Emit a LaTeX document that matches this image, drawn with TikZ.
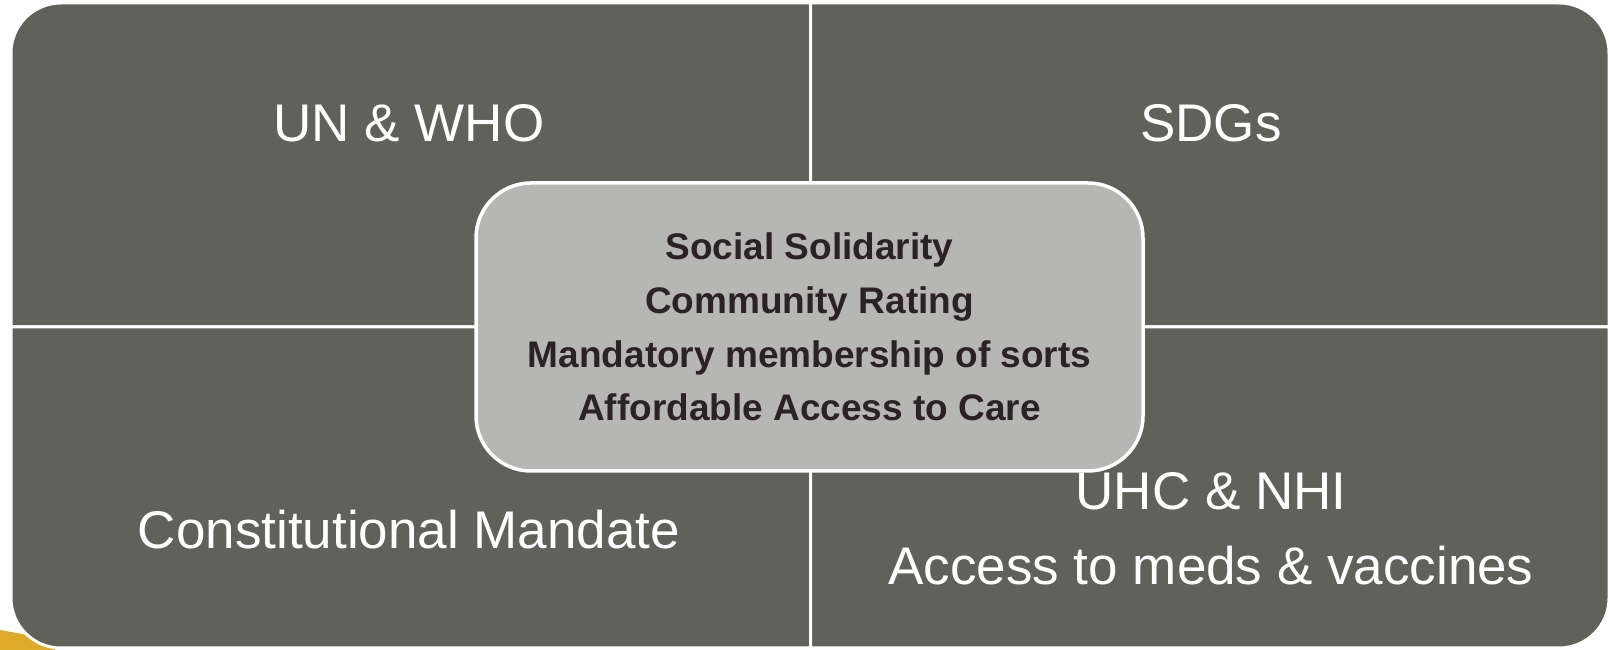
\documentclass[tikz,border=0pt]{standalone}
\usepackage{fontspec}
\setmainfont{Liberation Sans}
\definecolor{quadgray}{RGB}{97,97,91}
\definecolor{coregray}{RGB}{182,182,180}
\definecolor{coretext}{RGB}{43,34,38}
\definecolor{slidegold}{RGB}{222,170,40}
\begin{document}
\begin{tikzpicture}[x=1pt,y=1pt,
  quad/.style={draw=white,line width=3pt,fill=quadgray},
  core/.style={draw=white,line width=3.5pt,fill=coregray,rounded corners=55pt,
    minimum width=667pt,minimum height=288pt,inner sep=0pt,align=center,
    text=coretext,font=\fontsize{37}{53.8}\selectfont\bfseries},
  quadlabel/.style={text=white,inner sep=0pt,align=center,
    font=\fontsize{53}{64}\selectfont}]
\useasboundingbox (0,0) rectangle (1613,650);
\fill[slidegold] (0,0) -- (0,20) -- (55,10) -- (55,0) -- cycle;
\draw[quad] (11,323) -- (11,597) arc[start angle=180,end angle=90,radius=50] -- (810.5,647) -- (810.5,323) -- cycle;
\draw[quad] (810.5,323) -- (810.5,647) -- (1559,647) arc[start angle=90,end angle=0,radius=50] -- (1609,323) -- cycle;
\draw[quad] (11,323) -- (810.5,323) -- (810.5,2) -- (61,2) arc[start angle=270,end angle=180,radius=50] -- cycle;
\draw[quad] (810.5,323) -- (1609,323) -- (1609,52) arc[start angle=0,end angle=-90,radius=50] -- (810.5,2) -- cycle;
\node[quadlabel] (unwho) at (409,527) {UN \& WHO};
\node[quadlabel] (sdgs) at (1211,527) {SDGs};
\node[quadlabel] (const) at (409,120) {Constitutional Mandate};
\node[quadlabel] (uhc) at (1211,121.5) {UHC \& NHI\\[11pt]Access to meds \& vaccines};
\node[core] (values) at (809.5,323) {Social Solidarity\\Community Rating\\Mandatory membership of sorts\\Affordable Access to Care};
\end{tikzpicture}
\end{document}
